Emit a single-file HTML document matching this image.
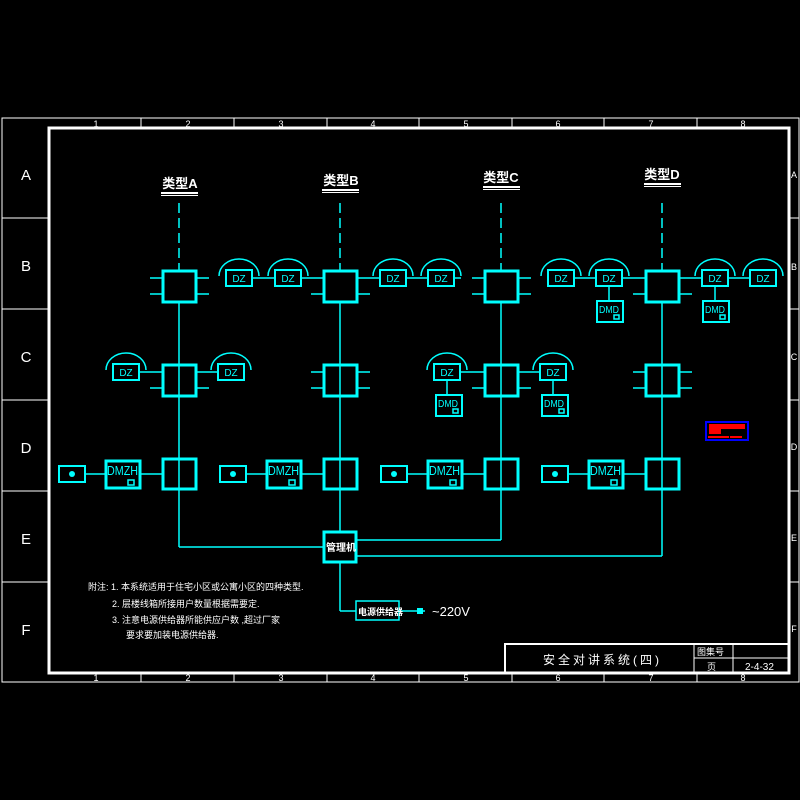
<!DOCTYPE html>
<html><head><meta charset="utf-8"><style>
html,body{margin:0;padding:0;background:#000;}
svg{display:block}
text{font-family:"Liberation Sans","Noto Sans CJK SC",sans-serif;}
</style></head><body>
<svg width="800" height="800" viewBox="0 0 800 800" xmlns="http://www.w3.org/2000/svg">
<rect width="800" height="800" fill="#000"/>
<g stroke="#fff" fill="none">
<rect x="2" y="118" width="797" height="564" stroke-width="1"/>
<rect x="49" y="128" width="740" height="545" stroke-width="3"/>
<g stroke-width="1">
<line x1="141" y1="118" x2="141" y2="128"/><line x1="234" y1="118" x2="234" y2="128"/><line x1="327" y1="118" x2="327" y2="128"/><line x1="419" y1="118" x2="419" y2="128"/><line x1="512" y1="118" x2="512" y2="128"/><line x1="604" y1="118" x2="604" y2="128"/><line x1="697" y1="118" x2="697" y2="128"/>
<line x1="141" y1="673" x2="141" y2="682"/><line x1="234" y1="673" x2="234" y2="682"/><line x1="327" y1="673" x2="327" y2="682"/><line x1="419" y1="673" x2="419" y2="682"/><line x1="512" y1="673" x2="512" y2="682"/><line x1="604" y1="673" x2="604" y2="682"/><line x1="697" y1="673" x2="697" y2="682"/>
<line x1="2" y1="218" x2="49" y2="218"/><line x1="2" y1="309" x2="49" y2="309"/><line x1="2" y1="400" x2="49" y2="400"/><line x1="2" y1="491" x2="49" y2="491"/><line x1="2" y1="582" x2="49" y2="582"/>
<line x1="789" y1="218" x2="799" y2="218"/><line x1="789" y1="309" x2="799" y2="309"/><line x1="789" y1="400" x2="799" y2="400"/><line x1="789" y1="491" x2="799" y2="491"/><line x1="789" y1="582" x2="799" y2="582"/>
</g>
</g>
<g fill="#fff" font-size="9" text-anchor="middle">
<text x="96" y="127">1</text><text x="188" y="127">2</text><text x="281" y="127">3</text><text x="373" y="127">4</text><text x="466" y="127">5</text><text x="558" y="127">6</text><text x="651" y="127">7</text><text x="743" y="127">8</text>
<text x="96" y="681">1</text><text x="188" y="681">2</text><text x="281" y="681">3</text><text x="373" y="681">4</text><text x="466" y="681">5</text><text x="558" y="681">6</text><text x="651" y="681">7</text><text x="743" y="681">8</text>
</g>
<g fill="#fff" font-size="15" text-anchor="middle">
<text x="26" y="180">A</text><text x="26" y="271">B</text><text x="26" y="362">C</text><text x="26" y="453">D</text><text x="26" y="544">E</text><text x="26" y="635">F</text>
</g>
<g fill="#fff" font-size="9" text-anchor="middle">
<text x="794" y="178">A</text><text x="794" y="270">B</text><text x="794" y="360">C</text><text x="794" y="450">D</text><text x="794" y="541">E</text><text x="794" y="632">F</text>
</g>
<g fill="#fff" font-size="13" font-weight="bold" text-anchor="middle">
<text x="180" y="188">类型A</text><text x="341" y="185">类型B</text><text x="501" y="182">类型C</text><text x="662" y="179">类型D</text>
</g>
<g fill="#fff">
<rect x="161" y="192" width="37" height="2"/><rect x="161" y="195" width="37" height="1"/>
<rect x="322" y="189" width="37" height="2"/><rect x="322" y="192" width="37" height="1"/>
<rect x="483" y="186" width="37" height="2"/><rect x="483" y="189" width="37" height="1"/>
<rect x="644" y="183" width="37" height="2"/><rect x="644" y="186" width="37" height="1"/>
</g>
<g stroke="#0ff" fill="none" stroke-width="1.5">
<line x1="179" y1="203" x2="179" y2="270" stroke-dasharray="10,5"/>
<line x1="340" y1="203" x2="340" y2="270" stroke-dasharray="10,5"/>
<line x1="501" y1="203" x2="501" y2="270" stroke-dasharray="10,5"/>
<line x1="662" y1="203" x2="662" y2="270" stroke-dasharray="10,5"/>
<line x1="179" y1="302" x2="179" y2="547"/><line x1="179" y1="547" x2="323" y2="547"/>
<line x1="340" y1="302" x2="340" y2="531"/>
<line x1="501" y1="302" x2="501" y2="540"/><line x1="357" y1="540" x2="501" y2="540"/>
<line x1="662" y1="302" x2="662" y2="556"/><line x1="357" y1="556" x2="662" y2="556"/>
<line x1="340" y1="562" x2="340" y2="611"/><line x1="340" y1="611" x2="356" y2="611"/>
<line x1="399" y1="611" x2="425" y2="611"/>
</g>
<rect x="417" y="608" width="6" height="6" fill="#0ff"/>
<text x="432" y="616" fill="#fff" font-size="13">~220V</text>
<g stroke="#0ff" fill="none" stroke-width="3">
<rect x="163" y="271" width="33" height="31"/><rect x="324" y="271" width="33" height="31"/><rect x="485" y="271" width="33" height="31"/><rect x="646" y="271" width="33" height="31"/>
<rect x="163" y="365" width="33" height="31"/><rect x="324" y="365" width="33" height="31"/><rect x="485" y="365" width="33" height="31"/><rect x="646" y="365" width="33" height="31"/>
<rect x="163" y="459" width="33" height="30"/><rect x="324" y="459" width="33" height="30"/><rect x="485" y="459" width="33" height="30"/><rect x="646" y="459" width="33" height="30"/>
<rect x="324" y="532" width="32" height="30"/>
</g>
<g stroke="#0ff" stroke-width="1.5">
<path d="M150 278H163M150 294H163M196 278H209M196 294H209"/>
<path d="M311 294H324M357 294H370"/>
<path d="M472 278H485M472 294H485M518 278H531M518 294H531"/>
<path d="M633 294H646M679 294H692"/>
<path d="M150 388H163M196 388H209"/>
<path d="M311 372H324M311 388H324M357 372H370M357 388H370"/>
<path d="M472 388H485M518 388H531"/>
<path d="M633 372H646M633 388H646M679 372H692M679 388H692"/>
<path d="M252 278H275M300 278H324M357 278H380M406 278H428M454 278H461"/>
<path d="M574 278H596M622 278H646M679 278H702M728 278H750"/>
<path d="M139 372H163M196 372H218M460 372H485M518 372H540"/>
<path d="M85 474H105M140 474H163M246 474H266M301 474H324M407 474H427M462 474H485M568 474H588M623 474H646"/>
<path d="M609 287V301M715 287V301M447 381V395M553 381V395"/>
</g>
<g stroke="#0ff" fill="none" stroke-width="1.5">
<path d="M219 276A20 17 0 0 1 259 276"/><rect x="226" y="270" width="26" height="16" stroke-width="2"/>
<path d="M268 276A20 17 0 0 1 308 276"/><rect x="275" y="270" width="26" height="16" stroke-width="2"/>
<path d="M373 276A20 17 0 0 1 413 276"/><rect x="380" y="270" width="26" height="16" stroke-width="2"/>
<path d="M421 276A20 17 0 0 1 461 276"/><rect x="428" y="270" width="26" height="16" stroke-width="2"/>
<path d="M541 276A20 17 0 0 1 581 276"/><rect x="548" y="270" width="26" height="16" stroke-width="2"/>
<path d="M589 276A20 17 0 0 1 629 276"/><rect x="596" y="270" width="26" height="16" stroke-width="2"/>
<path d="M695 276A20 17 0 0 1 735 276"/><rect x="702" y="270" width="26" height="16" stroke-width="2"/>
<path d="M743 276A20 17 0 0 1 783 276"/><rect x="750" y="270" width="26" height="16" stroke-width="2"/>
<path d="M106 370A20 17 0 0 1 146 370"/><rect x="113" y="364" width="26" height="16" stroke-width="2"/>
<path d="M211 370A20 17 0 0 1 251 370"/><rect x="218" y="364" width="26" height="16" stroke-width="2"/>
<path d="M427 370A20 17 0 0 1 467 370"/><rect x="434" y="364" width="26" height="16" stroke-width="2"/>
<path d="M533 370A20 17 0 0 1 573 370"/><rect x="540" y="364" width="26" height="16" stroke-width="2"/>
<rect x="597" y="301" width="26" height="21" stroke-width="2"/>
<rect x="703" y="301" width="26" height="21" stroke-width="2"/>
<rect x="436" y="395" width="26" height="21" stroke-width="2"/>
<rect x="542" y="395" width="26" height="21" stroke-width="2"/>
<rect x="59" y="466" width="26" height="16" stroke-width="2"/>
<rect x="220" y="466" width="26" height="16" stroke-width="2"/>
<rect x="381" y="466" width="26" height="16" stroke-width="2"/>
<rect x="542" y="466" width="26" height="16" stroke-width="2"/>
<rect x="106" y="461" width="34" height="27" stroke-width="3"/>
<rect x="267" y="461" width="34" height="27" stroke-width="3"/>
<rect x="428" y="461" width="34" height="27" stroke-width="3"/>
<rect x="589" y="461" width="34" height="27" stroke-width="3"/>
<rect x="356" y="601" width="43" height="19" stroke-width="1.5"/>
</g>
<g fill="#0ff">
<circle cx="72" cy="474" r="3"/><circle cx="233" cy="474" r="3"/><circle cx="394" cy="474" r="3"/><circle cx="555" cy="474" r="3"/>
</g>
<g stroke="#0ff" fill="none" stroke-width="1.5">
<rect x="128" y="480" width="6" height="5"/><rect x="289" y="480" width="6" height="5"/><rect x="450" y="480" width="6" height="5"/><rect x="611" y="480" width="6" height="5"/>
<rect x="614" y="315" width="5" height="4"/><rect x="720" y="315" width="5" height="4"/><rect x="453" y="409" width="5" height="4"/><rect x="559" y="409" width="5" height="4"/>
</g>
<g fill="#0ff" font-size="10" text-anchor="middle">
<text x="239" y="282">DZ</text><text x="288" y="282">DZ</text><text x="393" y="282">DZ</text><text x="441" y="282">DZ</text>
<text x="561" y="282">DZ</text><text x="609" y="282">DZ</text><text x="715" y="282">DZ</text><text x="763" y="282">DZ</text>
<text x="126" y="376">DZ</text><text x="231" y="376">DZ</text><text x="447" y="376">DZ</text><text x="553" y="376">DZ</text>
</g>
<g fill="#0ff" font-size="10">
<text x="599" y="313" textLength="20" lengthAdjust="spacingAndGlyphs">DMD</text><text x="705" y="313" textLength="20" lengthAdjust="spacingAndGlyphs">DMD</text><text x="438" y="407" textLength="20" lengthAdjust="spacingAndGlyphs">DMD</text><text x="544" y="407" textLength="20" lengthAdjust="spacingAndGlyphs">DMD</text>
<text x="107" y="475" font-size="13" textLength="31" lengthAdjust="spacingAndGlyphs">DMZH</text><text x="268" y="475" font-size="13" textLength="31" lengthAdjust="spacingAndGlyphs">DMZH</text><text x="429" y="475" font-size="13" textLength="31" lengthAdjust="spacingAndGlyphs">DMZH</text><text x="590" y="475" font-size="13" textLength="31" lengthAdjust="spacingAndGlyphs">DMZH</text>
</g>
<g fill="#fff" font-size="10">
<text x="326" y="551" font-weight="bold">管理机</text>
<text x="358" y="615" font-size="9" font-weight="bold">电源供给器</text>
<text x="88" y="590" font-size="9">附注: 1. 本系统适用于住宅小区或公寓小区的四种类型.</text>
<text x="112" y="607" font-size="9">2. 层楼线箱所接用户数量根据需要定.</text>
<text x="112" y="623" font-size="9">3. 注意电源供给器所能供应户数 ,超过厂家</text>
<text x="126" y="638" font-size="9">要求要加装电源供给器.</text>
</g>
<rect x="706" y="422" width="42" height="18" fill="none" stroke="#00f" stroke-width="2"/>
<rect x="709" y="424" width="36" height="5" fill="#f00"/><rect x="709" y="429" width="12" height="5" fill="#f00"/>
<rect x="708" y="436" width="21" height="2" fill="#f00"/><rect x="730" y="436" width="12" height="2" fill="#f00"/>
<g stroke="#fff" fill="none">
<rect x="505" y="644" width="284" height="29" stroke-width="2"/>
<line x1="694" y1="644" x2="694" y2="673"/><line x1="733" y1="644" x2="733" y2="673"/>
<line x1="694" y1="658" x2="789" y2="658"/>
</g>
<g fill="#fff">
<text x="543" y="664" font-size="12" letter-spacing="3">安全对讲系统(四)</text>
<text x="697" y="655" font-size="9">图集号</text>
<text x="707" y="670" font-size="9">页</text>
<text x="745" y="670" font-size="10">2-4-32</text>
</g>
</svg>
</body></html>
